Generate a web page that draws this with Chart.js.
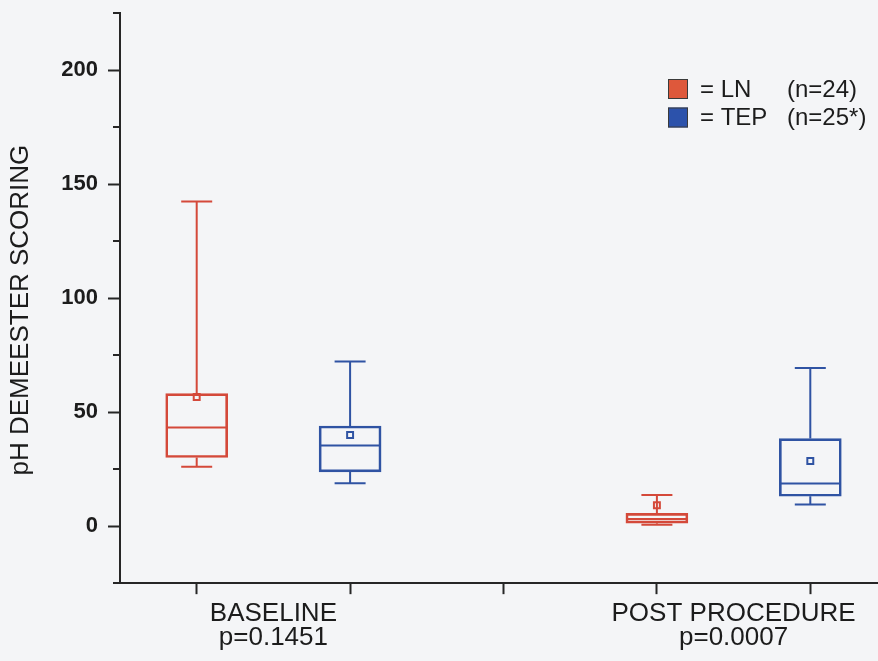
<!DOCTYPE html>
<html>
<head>
<meta charset="utf-8">
<title>pH DeMeester scoring – LN vs TEP</title>
<script src="https://cdn.jsdelivr.net/npm/chart.js@4.4.1/dist/chart.umd.min.js"></script>
<style>
  html, body { margin: 0; padding: 0; background: #f4f5f7; overflow: hidden; }
  .wrap { position: relative; width: 900px; height: 661px; }
</style>
</head>
<body>
<div class="wrap"><canvas id="boxChart"></canvas></div>
<script>
/* ─────────────────────────────────────────────────────────────
   DATA
───────────────────────────────────────────────────────────── */

const groups  = ['BASELINE', 'POST PROCEDURE'];
const pValues = ['p=0.1451', 'p=0.0007'];
const series  = ['LN', 'TEP'];
const seriesN = ['(n=24)', '(n=25*)'];
const yTicks  = [0, 50, 100, 150, 200];

const lnMin  = [26.0, 0.6];
const lnQ1   = [30.1, 1.3];
const lnMed  = [43.2, 3.1];
const lnQ3   = [58.1, 5.6];
const lnMax  = [142.4, 13.7];
const lnMean = [56.6, 9.2];

const tepMin  = [18.8, 9.5];
const tepQ1   = [23.8, 13.1];
const tepMed  = [35.4, 18.7];
const tepQ3   = [43.9, 38.4];
const tepMax  = [72.2, 69.3];
const tepMean = [40.0, 28.6];


/* ─────────────────────────────────────────────────────────────
   STYLE
───────────────────────────────────────────────────────────── */

const C_AXIS = '#262626';
const C_TEXT = '#1c1c1c';
const C_LINE = ['#d4493a', '#2f53a3'];
const C_FILL = ['#de583b', '#2c52ab'];
const FONT   = '"Liberation Sans", Arial, sans-serif';

Chart.defaults.font.family = FONT;
Chart.defaults.color = C_TEXT;

// each group takes three slots on the x axis: LN, TEP, gap
const slot = (g, s) => g * 3 + s + 1;
const xMajor = [];
for (let v = 1; v < groups.length * 3; v++) xMajor.push(v);

const boxSets = [
  { min: lnMin,  q1: lnQ1,  med: lnMed,  q3: lnQ3,  max: lnMax,  mean: lnMean },
  { min: tepMin, q1: tepQ1, med: tepMed, q3: tepQ3, max: tepMax, mean: tepMean }
];


/* ─────────────────────────────────────────────────────────────
   PLUGINS
───────────────────────────────────────────────────────────── */

// medians, whiskers and caps on top of the floating bars
const whiskers = {
  id: 'whiskers',
  afterDatasetsDraw(chart) {
    const { ctx, scales: { y } } = chart;
    boxSets.forEach((set, s) => {
      const meta = chart.getDatasetMeta(s);
      meta.data.forEach((bar, g) => {
        const half = bar.width / 2 - 1;
        const cap  = bar.width / 4;
        const yMed = y.getPixelForValue(set.med[g]);
        const yQ1  = y.getPixelForValue(set.q1[g]);
        const yQ3  = y.getPixelForValue(set.q3[g]);
        const yMin = y.getPixelForValue(set.min[g]);
        const yMax = y.getPixelForValue(set.max[g]);
        ctx.save();
        ctx.strokeStyle = C_LINE[s];
        ctx.lineWidth = 2;
        ctx.beginPath();
        ctx.moveTo(bar.x - half, yMed); ctx.lineTo(bar.x + half, yMed);
        ctx.moveTo(bar.x, yQ3);         ctx.lineTo(bar.x, yMax);
        ctx.moveTo(bar.x - cap, yMax);  ctx.lineTo(bar.x + cap, yMax);
        ctx.moveTo(bar.x, yQ1);         ctx.lineTo(bar.x, yMin);
        ctx.moveTo(bar.x - cap, yMin);  ctx.lineTo(bar.x + cap, yMin);
        ctx.stroke();
        ctx.restore();
      });
    });
  }
};

// short minor ticks, y-axis title and the little legend box
const extras = {
  id: 'extras',
  afterDraw(chart) {
    const { ctx, chartArea: a, scales: { y } } = chart;
    ctx.save();

    ctx.strokeStyle = C_AXIS;
    ctx.lineWidth = 2;
    ctx.beginPath();
    y.ticks.forEach(t => {
      if (yTicks.includes(t.value)) return;
      const py = Math.round(y.getPixelForValue(t.value));
      ctx.moveTo(a.left - 7, py);
      ctx.lineTo(a.left, py);
    });
    ctx.stroke();

    ctx.fillStyle = C_TEXT;
    ctx.font = '26px ' + FONT;
    ctx.textAlign = 'center';
    ctx.textBaseline = 'middle';
    ctx.translate(21, (a.top + a.bottom) / 2 + 12);
    ctx.rotate(-Math.PI / 2);
    ctx.fillText('pH DEMEESTER SCORING', 0, 0);
    ctx.setTransform(1, 0, 0, 1, 0, 0);

    const lx = a.right - 219, ly = a.top + 66;
    ctx.font = '24px ' + FONT;
    ctx.textAlign = 'left';
    series.forEach((name, s) => {
      const top = ly + s * 28.5;
      ctx.fillStyle = C_FILL[s];
      ctx.fillRect(lx, top, 20, 20);
      ctx.strokeStyle = '#3a3a3a';
      ctx.lineWidth = 1;
      ctx.strokeRect(lx + 0.5, top + 0.5, 19, 19);
      ctx.fillStyle = C_TEXT;
      ctx.fillText('= ' + name, lx + 32, top + 11);
      ctx.fillText(seriesN[s], lx + 119, top + 11);
    });

    ctx.restore();
  }
};


/* ─────────────────────────────────────────────────────────────
   CHART
───────────────────────────────────────────────────────────── */

const boxDatasets = boxSets.map((set, s) => ({
  type: 'bar',
  label: series[s],
  data: groups.map((_, g) => ({ x: slot(g, s), y: [set.q1[g], set.q3[g]] })),
  backgroundColor: 'rgba(0,0,0,0)',
  borderColor: C_LINE[s],
  borderWidth: 2,
  borderSkipped: false,
  grouped: false,
  barPercentage: 1,
  categoryPercentage: 1,
  maxBarThickness: 62
}));

const meanDatasets = boxSets.map((set, s) => ({
  type: 'scatter',
  label: series[s] + ' mean',
  data: groups.map((_, g) => ({ x: slot(g, s), y: set.mean[g] })),
  pointStyle: 'rect',
  pointRadius: 4.2,
  pointBorderWidth: 2,
  pointBackgroundColor: 'rgba(0,0,0,0)',
  pointBorderColor: C_LINE[s]
}));

new Chart(document.getElementById('boxChart'), {
  type: 'bar',
  data: { datasets: [...boxDatasets, ...meanDatasets] },
  options: {
    responsive: true,
    maintainAspectRatio: false,
    animation: false,
    layout: { padding: { top: 13, right: 13, bottom: 3, left: 0 } },
    plugins: { legend: { display: false }, tooltip: { enabled: false } },
    scales: {
      x: {
        type: 'linear', position: 'bottom', min: 0.5, max: xMajor.length + 0.5, offset: false,
        afterBuildTicks: s => { s.ticks = xMajor.map(v => ({ value: v })); },
        ticks: { display: false },
        grid: { drawOnChartArea: false, offset: false, tickLength: 11, tickWidth: 2, tickColor: C_AXIS },
        border: { color: C_AXIS, width: 2 }
      },
      x2: {
        type: 'linear', position: 'bottom', min: 0.5, max: xMajor.length + 0.5, offset: false,
        afterBuildTicks: s => { s.ticks = groups.map((_, g) => ({ value: slot(g, 0) + 0.5 })); },
        ticks: {
          autoSkip: false, maxRotation: 0, padding: 8, color: C_TEXT,
          font: { size: 26, lineHeight: 0.92 },
          callback: (v, i) => [groups[i], pValues[i]]
        },
        grid: { display: false, drawTicks: false },
        border: { display: false }
      },
      y: {
        min: -25, max: 225,
        afterFit: s => { s.width = 120; s.paddingTop = 0; s.paddingBottom = 0; },
        ticks: {
          stepSize: 25, autoSkip: false, padding: 10, color: C_TEXT,
          font: { size: 22, weight: 'bold' },
          callback: v => yTicks.includes(v) ? String(v) : ''
        },
        grid: {
          drawOnChartArea: false, tickLength: 12, tickWidth: 2,
          tickColor: c => yTicks.includes(c.tick.value) ? C_AXIS : 'rgba(0,0,0,0)'
        },
        border: { color: C_AXIS, width: 2 }
      }
    }
  },
  plugins: [whiskers, extras]
});
</script>
</body>
</html>
